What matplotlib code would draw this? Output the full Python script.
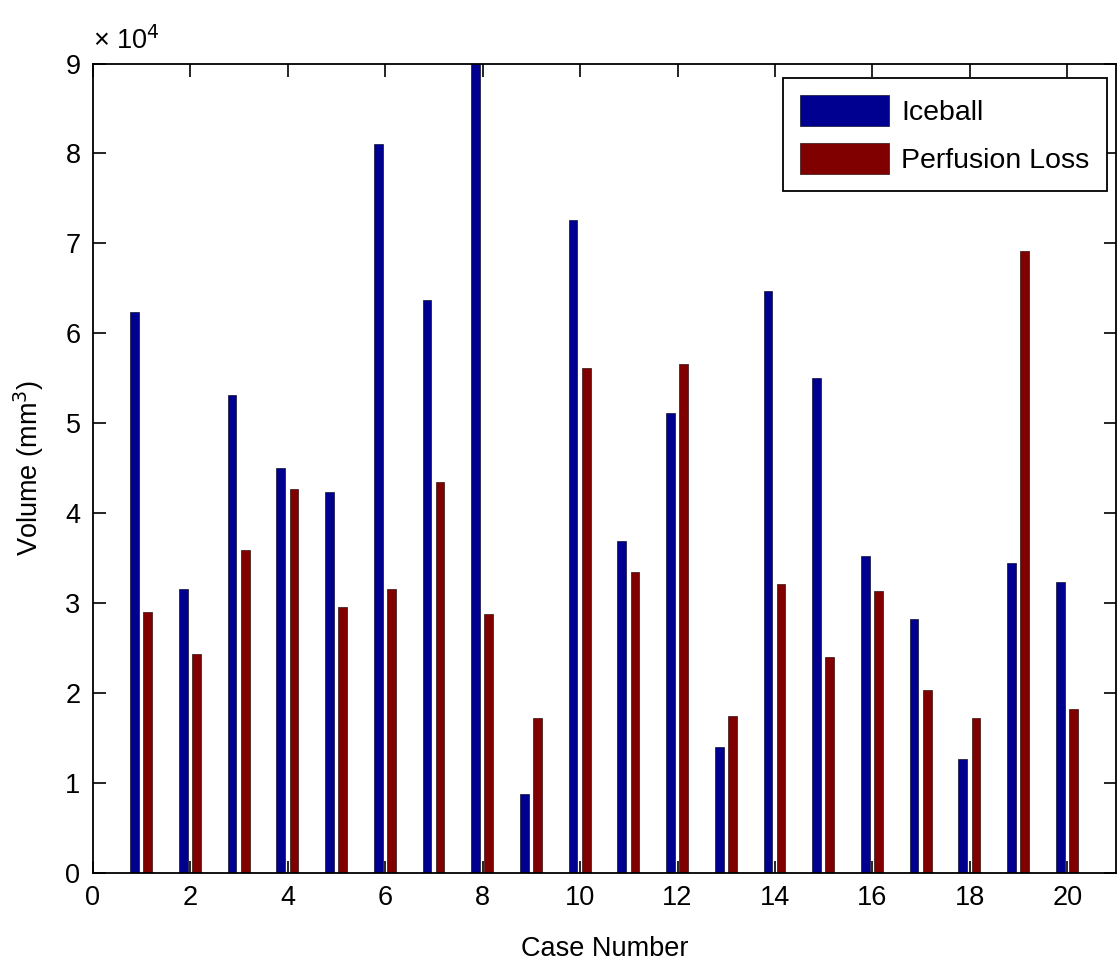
import matplotlib
matplotlib.use('Agg')

import numpy as np
import matplotlib.pyplot as plt

# values, in units of 1e4 mm^3
cases = np.arange(1, 21)
iceball = [6.24, 3.16, 5.32, 4.50, 4.24, 8.11, 6.37, 9.05, 0.875, 7.26,
           3.69, 5.11, 1.40, 6.47, 5.50, 3.53, 2.82, 1.27, 3.45, 3.24]
perfusion = [2.90, 2.44, 3.59, 4.27, 2.96, 3.16, 4.35, 2.88, 1.72, 5.61,
             3.35, 5.66, 1.75, 3.21, 2.40, 3.14, 2.04, 1.72, 6.92, 1.82]
series_names = ['Iceball', 'Perfusion Loss']
x_ticks = np.arange(0, 21, 2)
y_ticks = np.arange(0, 10, 1)

plt.rcParams['font.family'] = ['Liberation Sans', 'DejaVu Sans']
fs = 19.5

fig = plt.figure(figsize=(11.19, 9.64), dpi=100)
ax = fig.add_axes([0.0831, 0.0944, 0.9142, 0.8397])

bw = 0.18
ax.bar(cases - 0.145, iceball, width=bw, color='#000090', edgecolor='#101030',
       linewidth=0.5, label=series_names[0])
ax.bar(cases + 0.125, perfusion, width=bw, color='#800000', edgecolor='#301010',
       linewidth=0.5, label=series_names[1])

ax.set_xlim(0, 21)
ax.set_ylim(0, 9)
ax.set_xticks(x_ticks)
ax.set_yticks(y_ticks)
ax.tick_params(direction='in', length=9, width=1.2, labelsize=fs,
               top=True, right=True, pad=9)
for sp in ax.spines.values():
    sp.set_linewidth(1.3)

ax.set_xlabel('Case Number', fontsize=fs, labelpad=18)
ax.set_ylabel('Volume (mm$^3$)', fontsize=fs, labelpad=14)
ax.text(0.0, 1.01, '× 10$^4$', transform=ax.transAxes, fontsize=fs,
        ha='left', va='bottom')

leg = ax.legend(loc='upper right', bbox_to_anchor=(0.991, 0.982),
                borderaxespad=0, fontsize=20.5, handlelength=3.1,
                handleheight=1.3, handletextpad=0.45, borderpad=0.6,
                fancybox=False, framealpha=1, edgecolor='black',
                labelspacing=0.6)
leg.get_frame().set_linewidth(1.3)

fig.savefig('out.png', dpi=100)
